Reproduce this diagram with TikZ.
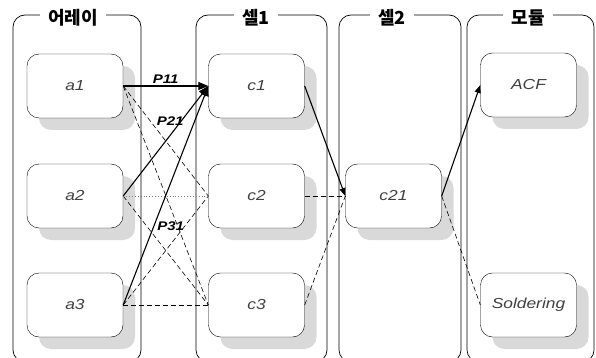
\documentclass[tikz,border=0pt]{standalone}
\usepackage{fontspec}
\setmainfont{Liberation Sans}
\newfontfamily\boxfont[FakeStretch=1.2]{Liberation Sans}
\newfontfamily\krfont{Noto Sans CJK KR}
\usetikzlibrary{arrows.meta,shadows}

\begin{document}
\begin{tikzpicture}[x=1pt,y=-1pt,
  lane/.style={draw,rounded corners=12pt,line width=0.7pt},
  lanetitle/.style={fill=white,inner xsep=8pt,inner ysep=2pt,font=\krfont\bfseries\fontsize{18}{18}\selectfont},
  box/.style={draw,fill=white,rounded corners=12pt,minimum width=96pt,minimum height=64pt,inner sep=0pt,
    drop shadow={shadow xshift=12pt,shadow yshift=-12pt,fill=black!15,opacity=1},
    font=\boxfont\itshape\fontsize{14.5}{14.5}\selectfont,text=black!75},
  flow/.style={-{Triangle[length=10pt,width=8pt]},line width=1.1pt},
  alt/.style={dash pattern=on 5pt off 3pt,line width=0.6pt},
  plabel/.style={font=\boxfont\bfseries\itshape\fontsize{12.5}{12.5}\selectfont,inner sep=1pt}]
\clip (0,0) rectangle (596,358);

% lanes
\draw[lane] (13,15) rectangle (141,362);
\draw[lane] (196,15) rectangle (327,362);
\draw[lane] (339,15) rectangle (461,362);
\draw[lane] (467,15) rectangle (594,362);
\node[lanetitle] (array) at (73,18) {어레이};
\node[lanetitle] (cell1) at (256,18) {셀1};
\node[lanetitle] (cell2) at (392,18) {셀2};
\node[lanetitle] (module) at (528,18) {모듈};

% steps
\node[box] (a1) at (75,86) {a1};
\node[box] (a2) at (75,196) {a2};
\node[box] (a3) at (75,305) {a3};
\node[box] (c1) at (256.5,86) {c1};
\node[box] (c2) at (256.5,196) {c2};
\node[box] (c3) at (256.5,305) {c3};
\node[box] (c21) at (393.5,196) {c21};
\node[box] (acf) at (528.5,85) {ACF};
\node[box] (sol) at (528.5,305) {Soldering};

% paths
\draw[alt] (a1.east) -- (c2.west);
\draw[alt] (a1.east) -- (c3.west);
\draw[alt] (a2.east) -- (c3.west);
\draw[alt] (a3.east) -- (c2.west);
\draw[alt,line width=0.9pt] (a3.east) -- (c3.west);
\draw[dotted,gray,line width=0.9pt] (a2.east) -- (c2.west);
\draw[flow] (a1.east) -- node[plabel,above=1pt] {P11} (c1.west);
\draw[flow] (a2.east) -- node[plabel,pos=0.68,left=-4pt] {P21} (c1.west);
\draw[flow] (a3.east) -- node[plabel,pos=0.36,right=2pt] {P31} (c1.west);
\draw[flow,-{Triangle[length=8pt,width=6pt]}] (c1.east) -- (c21.west);
\draw[alt] (c2.east) -- (c21.west);
\draw[alt] (c3.east) -- (c21.west);
\draw[flow,-{Triangle[length=8pt,width=6pt]}] (c21.east) -- (acf.west);
\draw[alt] (c21.east) -- (sol.west);
\end{tikzpicture}
\end{document}
